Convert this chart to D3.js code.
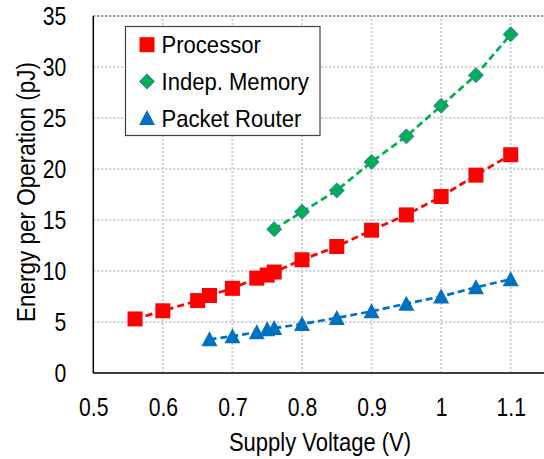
<!DOCTYPE html>
<html><head><meta charset="utf-8">
<script src="https://cdn.jsdelivr.net/npm/d3@7"></script>
<style>body{margin:0;background:#fff}svg{display:block}text{font-family:"Liberation Sans",Arial,sans-serif;fill:#000}</style>
</head><body>
<script>
const xTicks = [0.5,0.6,0.7,0.8,0.9,1.0,1.1];
const xTickLabels = ["0.5","0.6","0.7","0.8","0.9","1","1.1"];
const yTicks = [0,5,10,15,20,25,30,35];
const seriesNames = ["Processor","Indep. Memory","Packet Router"];
const procV = [0.56,0.6,0.65,0.667,0.7,0.735,0.75,0.76,0.8,0.85,0.9,0.95,1.0,1.05,1.1];
const procE = [5.3,6.1,7.1,7.6,8.3,9.3,9.6,9.9,11.1,12.4,14.0,15.5,17.3,19.4,21.4];
const memV = [0.76,0.8,0.85,0.9,0.95,1.0,1.05,1.1];
const memE = [14.1,15.8,17.9,20.7,23.2,26.2,29.2,33.2];
const routV = [0.667,0.7,0.735,0.75,0.76,0.8,0.85,0.9,0.95,1.0,1.05,1.1];
const routE = [3.3,3.6,4.0,4.3,4.4,4.8,5.4,6.05,6.8,7.5,8.4,9.2];

const W = 544, H = 459;
const svg = d3.select("body").append("svg").attr("width", W).attr("height", H);
const x = d3.scaleLinear().domain([0.5, 1.15]).range([93.3, 545.5]);
const y = d3.scaleLinear().domain([0, 35]).range([373, 16]);
const SX = 0.88, TSX = 0.83;

// gridlines
const grid = svg.append("g");
grid.selectAll("line.v").data(xTicks.slice(1)).join("line")
  .attr("x1", d => x(d)).attr("x2", d => x(d)).attr("y1", y(0)).attr("y2", y(35))
  .attr("stroke", "#cfcfcf").attr("stroke-width", 2).attr("stroke-dasharray", "2,2");
grid.selectAll("line.h").data(yTicks.slice(1)).join("line")
  .attr("x1", x(0.5)).attr("x2", W).attr("y1", d => y(d)).attr("y2", d => y(d))
  .attr("stroke", d => d === 35 ? "#8a8a8a" : "#cfcfcf").attr("stroke-width", 2).attr("stroke-dasharray", "2,2");

// axes
const xAxis = svg.append("g").attr("transform", `translate(0,${y(0)})`)
  .call(d3.axisBottom(x).tickValues(xTicks).tickFormat((d,i) => xTickLabels[i]).tickSize(0).tickPadding(0));
xAxis.select(".domain").remove();
xAxis.selectAll("text").attr("font-size", 25.5).attr("y", 43.5).attr("dy", 0)
  .attr("transform", `scale(${TSX},1)`).style("font-family", '"Liberation Sans",Arial,sans-serif').attr("fill", "#000");
const yAxis = svg.append("g").attr("transform", `translate(${x(0.5)},0)`)
  .call(d3.axisLeft(y).tickValues(yTicks).tickSize(0).tickPadding(0));
yAxis.select(".domain").remove();
yAxis.selectAll("text").attr("font-size", 25.5).attr("x", -27 / TSX).attr("dy", "0.35em")
  .attr("transform", `scale(${TSX},1)`).style("font-family", '"Liberation Sans",Arial,sans-serif').attr("fill", "#000");

svg.append("line").attr("x1", x(0.5)).attr("x2", x(0.5)).attr("y1", y(35)).attr("y2", y(0)).attr("stroke", "#000").attr("stroke-width", 1.5);
svg.append("line").attr("x1", x(0.5)).attr("x2", W).attr("y1", y(0)).attr("y2", y(0)).attr("stroke", "#000").attr("stroke-width", 1.5);

// titles
svg.append("text").attr("font-size", 25).attr("text-anchor", "middle")
  .attr("transform", `translate(320,451) scale(${SX},1)`).text("Supply Voltage (V)");
svg.append("text").attr("font-size", 25).attr("text-anchor", "middle")
  .attr("transform", `translate(35,192) rotate(-90) scale(${SX + 0.02},1)`).text("Energy per Operation (pJ)");

// series
const series = [
  {name: seriesNames[0], v: procV, e: procE, color: "#ff0000", shape: "square"},
  {name: seriesNames[1], v: memV, e: memE, color: "#00b050", shape: "diamond"},
  {name: seriesNames[2], v: routV, e: routE, color: "#0070c0", shape: "triangle"}
];
const line = d3.line().x(d => x(d[0])).y(d => y(d[1]));
function marker(sel, s) {
  if (s.shape === "square") {
    sel.append("rect").attr("x", -7.5).attr("y", -7.5).attr("width", 15).attr("height", 15).attr("fill", s.color);
  } else if (s.shape === "diamond") {
    sel.append("path").attr("d", "M0,-7.5L7.5,0L0,7.5L-7.5,0Z").attr("fill", s.color).attr("stroke", "#4472c4").attr("stroke-width", 1);
  } else {
    sel.append("path").attr("d", "M0,-8L8,7L-8,7Z").attr("fill", s.color);
  }
}
series.forEach(s => {
  const pts = s.v.map((v, i) => [v, s.e[i]]);
  svg.append("path").attr("d", line(pts)).attr("fill", "none").attr("stroke", s.color)
    .attr("stroke-width", 2.7).attr("stroke-dasharray", "7,4");
});
series.forEach(s => {
  const pts = s.v.map((v, i) => [v, s.e[i]]);
  svg.append("g").selectAll("g").data(pts).join("g")
    .attr("transform", d => `translate(${x(d[0])},${y(d[1])})`)
    .each(function() { marker(d3.select(this), s); });
});

// legend
const lg = svg.append("g");
lg.append("rect").attr("x", 125.5).attr("y", 26.5).attr("width", 194.5).attr("height", 109)
  .attr("fill", "#fff").attr("stroke", "#404040").attr("stroke-width", 1.2);
series.forEach((s, i) => {
  const cy = 44.7 + i * 36.7;
  const g = lg.append("g").attr("transform", `translate(147,${cy})`);
  marker(g, s);
  lg.append("text").attr("font-size", 24).attr("transform", `translate(161.5,${cy + 8.5}) scale(0.92,1)`).text(s.name);
});
</script>
</body></html>
